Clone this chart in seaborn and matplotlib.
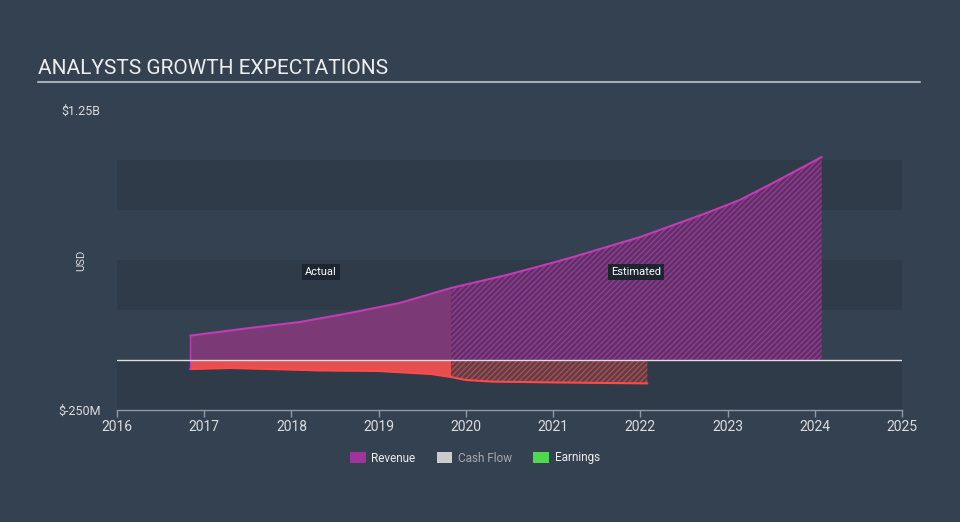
import numpy as np
import pandas as pd
import matplotlib
matplotlib.use("Agg")
import matplotlib.pyplot as plt
from matplotlib.patches import Patch
from matplotlib.lines import Line2D
import seaborn as sns

# ---- data (USD millions) ----
rev_actual_years = [2016.84, 2017.52, 2018.1, 2018.67, 2019.24, 2019.83]
rev_actual_vals = [122, 160, 190, 235, 285, 360]
rev_est_years = [2019.83, 2020.47, 2021.0, 2021.23, 2022.0, 2022.76, 2023.14, 2023.52, 2024.08]
rev_est_vals = [360, 425, 487, 515, 615, 735, 800, 885, 1015]

earn_actual_years = [2016.84, 2017.3, 2018.0, 2018.3, 2019.0, 2019.6, 2019.83]
earn_actual_vals = [-45, -40, -48, -52, -55, -70, -85]
earn_est_years = [2019.83, 2020.0, 2020.3, 2021.0, 2022.08]
earn_est_vals = [-85, -100, -108, -112, -117]

x_ticks = [2016, 2017, 2018, 2019, 2020, 2021, 2022, 2023, 2024, 2025]
y_tick_vals = [-250, 1250]
y_tick_labels = ["$-250M", "$1.25B"]
legend_labels = ["Revenue", "Cash Flow", "Earnings"]
legend_colors = ["#A0349A", "#CCCCCC", "#4ED94E"]

BG = "#334151"
sns.set_theme(style="dark")
plt.rcParams["font.family"] = ["Roboto", "DejaVu Sans"]
plt.rcParams["hatch.linewidth"] = 1.0

fig = plt.figure(figsize=(9.6, 5.22), dpi=100, facecolor=BG)
W, H = 960, 522
ax = fig.add_axes([117 / W, (H - 410) / H, (902 - 117) / W, 300 / H])
ax.set_facecolor(BG)

# background bands
for lo, hi in [(-250, 0), (250, 500), (750, 1000)]:
    ax.axhspan(lo, hi, color="#2F3B49", lw=0, zorder=0)

ra = pd.DataFrame({"year": rev_actual_years, "value": rev_actual_vals})
re_ = pd.DataFrame({"year": rev_est_years, "value": rev_est_vals})
ea = pd.DataFrame({"year": earn_actual_years, "value": earn_actual_vals})
ee = pd.DataFrame({"year": earn_est_years, "value": earn_est_vals})

# fills
ax.fill_between(ra["year"], 0, ra["value"], color="#7B3A76", lw=0, zorder=2)
ax.fill_between(re_["year"], 0, re_["value"], facecolor="#5C3262",
                edgecolor="#98389A", hatch="//////", lw=0, zorder=2)
ax.fill_between(ea["year"], 0, ea["value"], color="#E64E50", lw=0, zorder=2)
ax.fill_between(ee["year"], 0, ee["value"], facecolor="#5A3F48",
                edgecolor="#B54A4E", hatch="//////", lw=0, zorder=2)

# lines
sns.lineplot(data=ra, x="year", y="value", ax=ax, color="#C23DB4", lw=1.5, zorder=3)
sns.lineplot(data=re_, x="year", y="value", ax=ax, color="#C23DB4", lw=1.5, zorder=3)
sns.lineplot(data=ea, x="year", y="value", ax=ax, color="#FF4A4A", lw=1.5, zorder=3)
sns.lineplot(data=ee, x="year", y="value", ax=ax, color="#FF4A4A", lw=1.5, zorder=3)

# vertical edges at start
ax.plot([rev_actual_years[0]] * 2, [earn_actual_vals[0], rev_actual_vals[0]],
        color="#C23DB4", lw=1.0, zorder=3)

# zero line
ax.axhline(0, color="#DDDDDD", lw=1, zorder=4)

ax.set_xlim(2016, 2025)
ax.set_ylim(-250, 1250)
ax.set_xticks(x_ticks)
ax.set_xticklabels([str(t) for t in x_ticks], color="#DDDDDD", fontsize=10)
ax.set_yticks(y_tick_vals)
ax.set_yticklabels(y_tick_labels, color="#DDDDDD", fontsize=9)
ax.tick_params(axis="y", length=0, pad=12)
ax.tick_params(axis="x", length=5, width=1, color="#8D9AA8", pad=2, bottom=True)
ax.set_xlabel("")
ax.set_ylabel("")
for s in ["top", "right", "left"]:
    ax.spines[s].set_visible(False)
ax.spines["bottom"].set_color("#8D9AA8")
ax.spines["bottom"].set_linewidth(1)
ax.grid(False)

# Actual / Estimated labels
box = dict(boxstyle="square,pad=0.3", fc="#1D2530", ec="none")
ax.text(2018.34, 440, "Actual", color="#FFFFFF", fontsize=8, ha="center",
        va="center", bbox=box, zorder=5)
ax.text(2021.95, 440, "Estimated", color="#FFFFFF", fontsize=8, ha="center",
        va="center", bbox=box, zorder=5)

# title and rule
fig.text(38 / W, 1 - 69 / H, "ANALYSTS GROWTH EXPECTATIONS", color="#EEEEEE",
         fontsize=15, ha="left", va="center")
fig.add_artist(Line2D([38 / W, 920 / W], [1 - 82 / H, 1 - 82 / H],
                      transform=fig.transFigure, color="#A8AEB5", lw=1.5))

# USD label
fig.text(81 / W, 1 - 260 / H, "USD", color="#DDDDDD", fontsize=8,
         rotation=90, ha="center", va="center")

# legend
handles = [Patch(facecolor=c, edgecolor="none") for c in legend_colors]
leg = fig.legend(handles, legend_labels, loc="center", ncol=3,
                 bbox_to_anchor=(475 / W, 1 - 458 / H), frameon=False,
                 fontsize=8.5, handlelength=1.3, handleheight=1.0,
                 columnspacing=1.8, handletextpad=0.5)
for t, c in zip(leg.get_texts(), ["#EEEEEE", "#AAAAAA", "#EEEEEE"]):
    t.set_color(c)

fig.savefig("out.png", dpi=100, facecolor=BG)
